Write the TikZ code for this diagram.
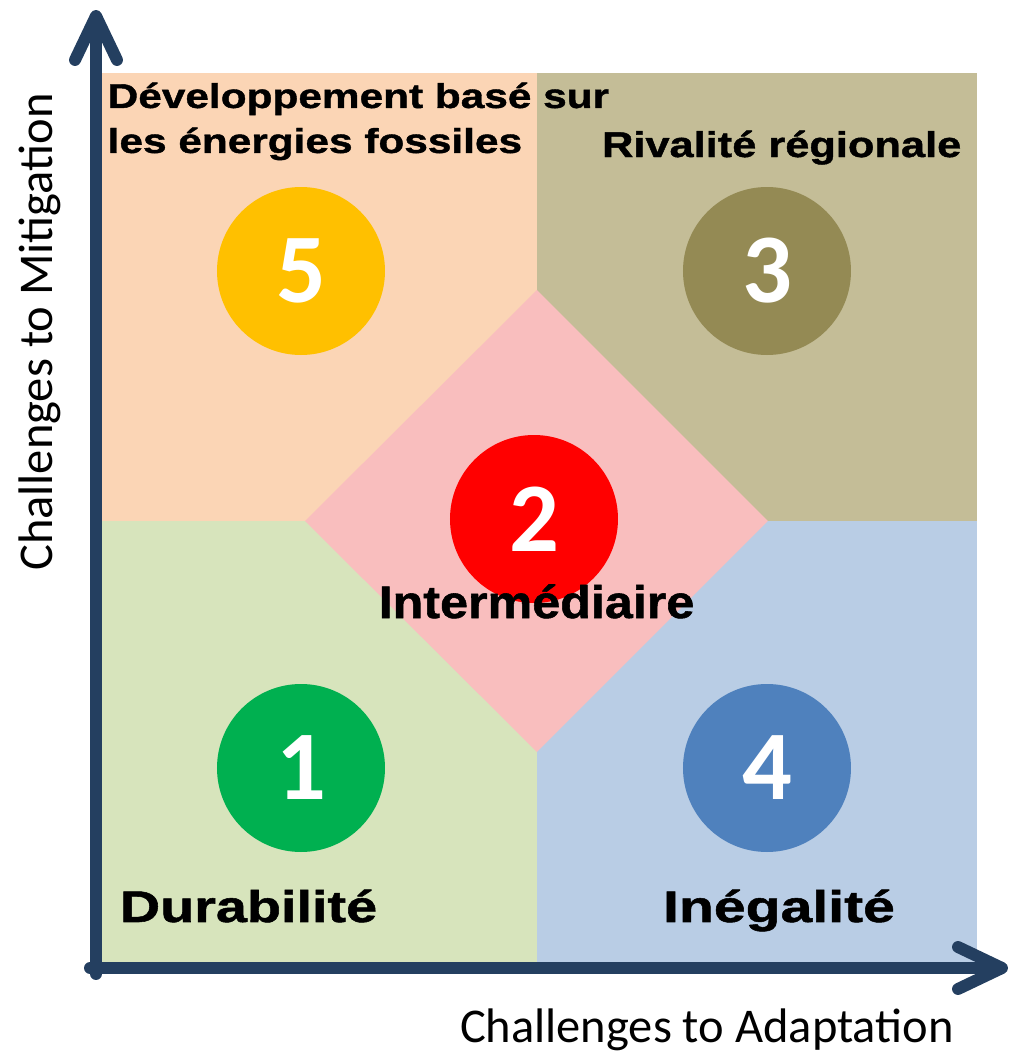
\documentclass[tikz,border=0pt]{standalone}
\usepackage{fontspec}
\setmainfont{Liberation Sans}
\newfontfamily\calibri{Carlito}
\usepackage{tikz}
\usetikzlibrary{arrows.meta}
\usetikzlibrary{positioning}
\definecolor{peach}{HTML}{FBD5B5}
\definecolor{khaki}{HTML}{C4BD97}
\definecolor{sage}{HTML}{D7E4BC}
\definecolor{skyblue}{HTML}{B9CDE5}
\definecolor{rosy}{HTML}{F9BEBE}
\definecolor{ssp1}{HTML}{00B050}
\definecolor{ssp2}{HTML}{FF0000}
\definecolor{ssp3}{HTML}{948A54}
\definecolor{ssp4}{HTML}{4F81BD}
\definecolor{ssp5}{HTML}{FFC000}
\definecolor{axisblue}{HTML}{243F60}
% wide bold labels: size, stretch
\newcommand{\widebold}[2]{\bfseries\fontsize{#1}{12.8}\selectfont\addfontfeature{FakeStretch=#2,FakeBold=1.2}}
\tikzset{
	ssp/.style={circle,minimum size=16.8mm,inner sep=0pt,text=white,font=\calibri\bfseries\fontsize{28}{28}\selectfont},
	title/.style={align=left,inner sep=0pt},
	axis/.style={line width=3.4pt,draw=axisblue,line cap=round,-{Straight Barb[round,length=4.4mm,width=4.2mm]}},
	axislabel/.style={font=\calibri\fontsize{13.8}{15}\selectfont},
}

\begin{document}
\begin{tikzpicture}
	\useasboundingbox (0,0) rectangle (10.10,10.58);
	\fill[peach] (1.02,5.37) rectangle (5.37,9.85);
	\fill[khaki] (5.37,5.37) rectangle (9.77,9.85);
	\fill[sage] (1.02,0.95) rectangle (5.37,5.37);
	\fill[skyblue] (5.37,0.95) rectangle (9.77,5.37);
	\fill[rosy] (5.37,7.68) -- (7.68,5.37) -- (5.37,3.06) -- (3.05,5.37) -- cycle;
	
	\node[ssp,fill=ssp5] (five) at (3.01,7.87) {5};
	\node[ssp,fill=ssp3] (three) at (7.67,7.87) {3};
	\node[ssp,fill=ssp2] (two) at (5.34,5.39) {2};
	\node[ssp,fill=ssp1] (one) at (3.01,2.90) {1};
	\node[ssp,fill=ssp4] (four) at (7.67,2.90) {4};
	
	\node[title,anchor=north west,font=\widebold{9.8}{1.23}] (fossil) at (1.07,9.76) {Développement basé sur\\les énergies fossiles};
	\node[title,anchor=base east,font=\widebold{10.2}{1.21}] (rival) at (9.62,9.01) {Rivalité régionale};
	\node[title,anchor=base,font=\widebold{13}{1.10}] (mid) at (5.365,4.40) {Intermédiaire};
	\node[title,anchor=base,font=\widebold{12.6}{1.26}] (dura) at (2.485,1.36) {Durabilité};
	\node[title,anchor=base,font=\widebold{12.6}{1.29}] (ineg) at (7.79,1.36) {Inégalité};
	
	\coordinate (O) at (0.96,0.90);
	\coordinate (ytop) at (0.96,10.48);
	\coordinate (xend) at (10.08,0.90);
	\draw[axis] (0.96,0.84) -- (ytop);
	\draw[axis] (0.90,0.90) -- (xend);
	\node[axislabel] (xlab) at (7.07,0.28) {Challenges to Adaptation};
	\node[axislabel,rotate=90] (ylab) at (0.40,7.26) {Challenges to Mitigation};
\end{tikzpicture}
\end{document}
